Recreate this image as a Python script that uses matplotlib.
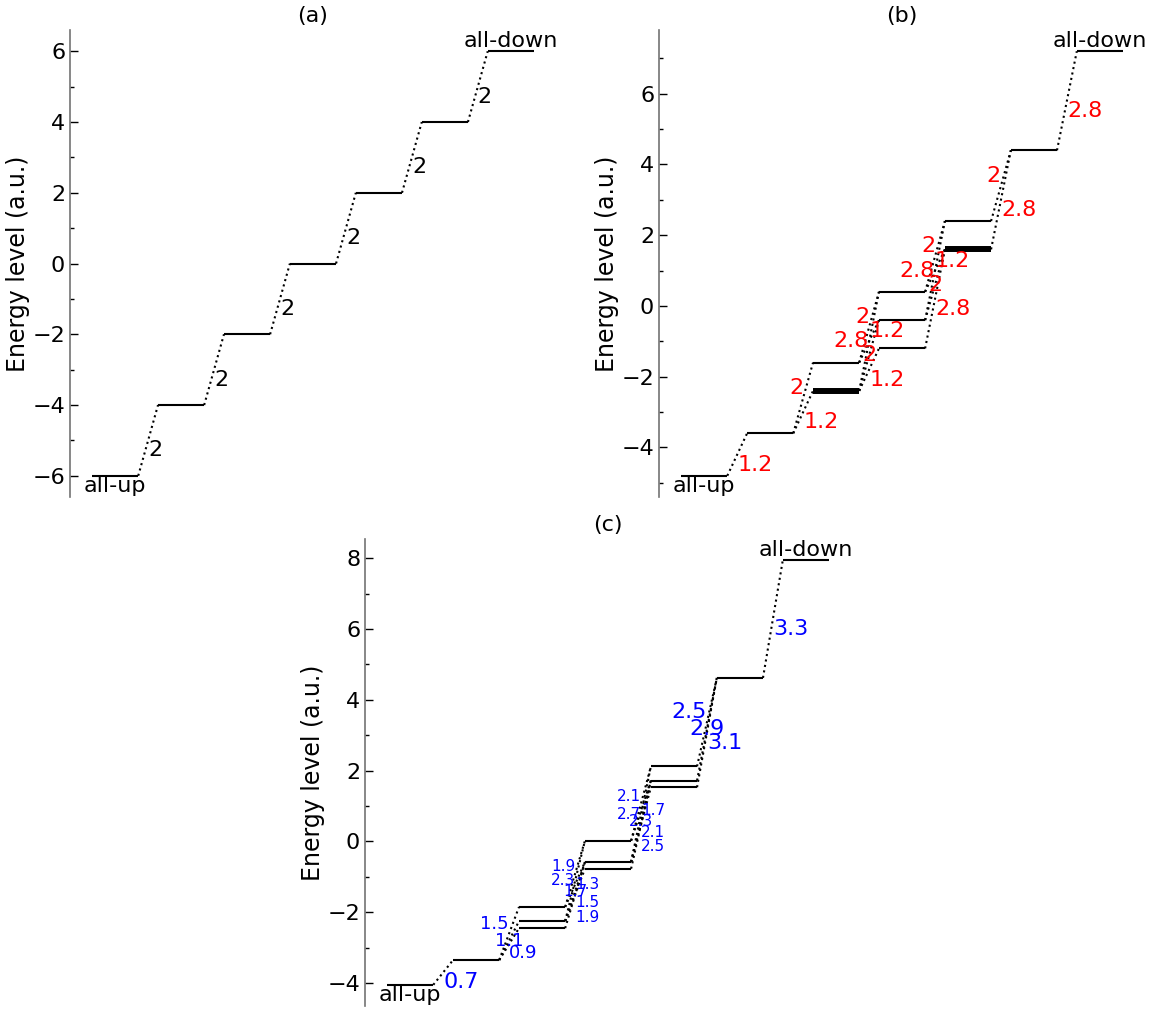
import matplotlib
matplotlib.use("Agg")
import matplotlib.pyplot as plt
from matplotlib.ticker import AutoMinorLocator

# energy levels in each column (number of flipped spins), listed top to bottom
LEVELS_A = [[-6], [-4], [-2], [0], [2], [4], [6]]
LEVELS_B = [[-4.8], [-3.6], [-1.6, -2.4], [0.4, -0.4, -1.2], [2.4, 1.6], [4.4], [7.2]]
LEVELS_C = [[-4.05], [-3.35], [-1.85, -2.25, -2.45], [0.02, -0.58, -0.77],
            [2.12, 1.72, 1.53], [4.62], [7.94]]

# degeneracy of each level (drawn thicker)
DEGEN_B = [[1], [1], [1, 2], [1, 1, 1], [1, 2], [1], [1]]

# transitions between neighbouring columns: (index in column k, index in column k+1)
TRANS_A = [[(0, 0)] for _ in range(6)]
TRANS_B = [
    [(0, 0)],
    [(0, 0), (0, 1)],
    [(0, 0), (0, 1), (1, 0), (1, 1), (1, 2)],
    [(0, 0), (0, 1), (1, 0), (1, 1), (2, 1)],
    [(0, 0), (1, 0)],
    [(0, 0)],
]
TRANS_C = [
    [(0, 0)],
    [(0, 0), (0, 1), (0, 2)],
    [(0, 0), (1, 0), (0, 1), (1, 1), (1, 2), (2, 1)],
    [(0, 0), (1, 0), (0, 1), (1, 1), (1, 2), (2, 1)],
    [(0, 0), (1, 0), (2, 0)],
    [(0, 0)],
]

TITLES = ["(a)", "(b)", "(c)"]
LABEL_COLORS = ["black", "red", "blue"]

# --- styling ---
WIDTH = 0.7          # length of a level line in column units
FS = 16
FS_C = [16, 13, 11, 11, 16, 16]   # label size per gap in panel (c)

# label placement around the midpoint of a transition, by group size
ALIGN = {"RB": ("right", "bottom"), "LB": ("left", "bottom"),
         "RC": ("right", "center"), "LC": ("left", "center"),
         "CC": ("center", "center"), "LT": ("left", "top")}
PLACE = {
    1: ["LT"],
    2: ["RB", "LT"],
    3: ["RB", "CC", "LT"],
    5: ["RB", "LB", "RC", "CC", "LT"],
    6: ["RB", "RC", "LC", "CC", "LT", "LT+"],
}


def draw_panel(ax, levels, trans, title, color, degen=None, fsizes=None):
    for k, col in enumerate(levels):
        for i, e in enumerate(col):
            lw = 1.5
            if degen is not None and degen[k][i] > 1:
                lw = 4.3
            ax.plot([k, k + WIDTH], [e, e], color="black", lw=lw,
                    solid_capstyle="butt")

    for k, group in enumerate(trans):
        codes = PLACE[len(group)]
        fs = FS if fsizes is None else fsizes[k]
        for (i, j), code in zip(group, codes):
            e1 = levels[k][i]
            e2 = levels[k + 1][j]
            x1, x2 = k + WIDTH, k + 1
            ax.plot([x1, x2], [e1, e2], color="black", lw=1.5, ls=":")
            dy = 0
            if code.endswith("+"):
                code = code[:-1]
                dy = -fs * 0.95
            ha, va = ALIGN[code]
            ax.annotate(f"{round(e2 - e1, 1):g}",
                        ((x1 + x2) / 2, (e1 + e2) / 2),
                        xytext=(0, dy), textcoords="offset points",
                        ha=ha, va=va, color=color, fontsize=fs)

    first = levels[0][0]
    last = levels[-1][0]
    ax.text(WIDTH / 2, first, "all-up", ha="center", va="top", fontsize=FS)
    ax.text(len(levels) - 1 + WIDTH / 2, last, "all-down", ha="center",
            va="bottom", fontsize=FS)

    ax.set_title(title, fontsize=FS)
    ax.set_ylabel("Energy level (a.u.)", fontsize=17, labelpad=2)
    for s in ["top", "right", "bottom"]:
        ax.spines[s].set_visible(False)
    ax.spines["left"].set_color("0.45")
    ax.spines["left"].set_linewidth(1.2)
    ax.set_xticks([])
    ax.yaxis.set_minor_locator(AutoMinorLocator(2))
    ax.tick_params(axis="y", which="major", direction="in", length=6,
                   width=1, labelsize=FS)
    ax.tick_params(axis="y", which="minor", direction="in", length=3, width=1)


fig = plt.figure(figsize=(11.53, 10.11), dpi=100)
ax_a = fig.add_axes([0.0607, 0.5084, 0.4215, 0.4619])
ax_b = fig.add_axes([0.5716, 0.5084, 0.4215, 0.4619])
ax_c = fig.add_axes([0.3166, 0.0049, 0.4215, 0.4619])

draw_panel(ax_a, LEVELS_A, TRANS_A, TITLES[0], LABEL_COLORS[0])
draw_panel(ax_b, LEVELS_B, TRANS_B, TITLES[1], LABEL_COLORS[1], degen=DEGEN_B)
draw_panel(ax_c, LEVELS_C, TRANS_C, TITLES[2], LABEL_COLORS[2], fsizes=FS_C)

fig.savefig("out.png", dpi=100)
